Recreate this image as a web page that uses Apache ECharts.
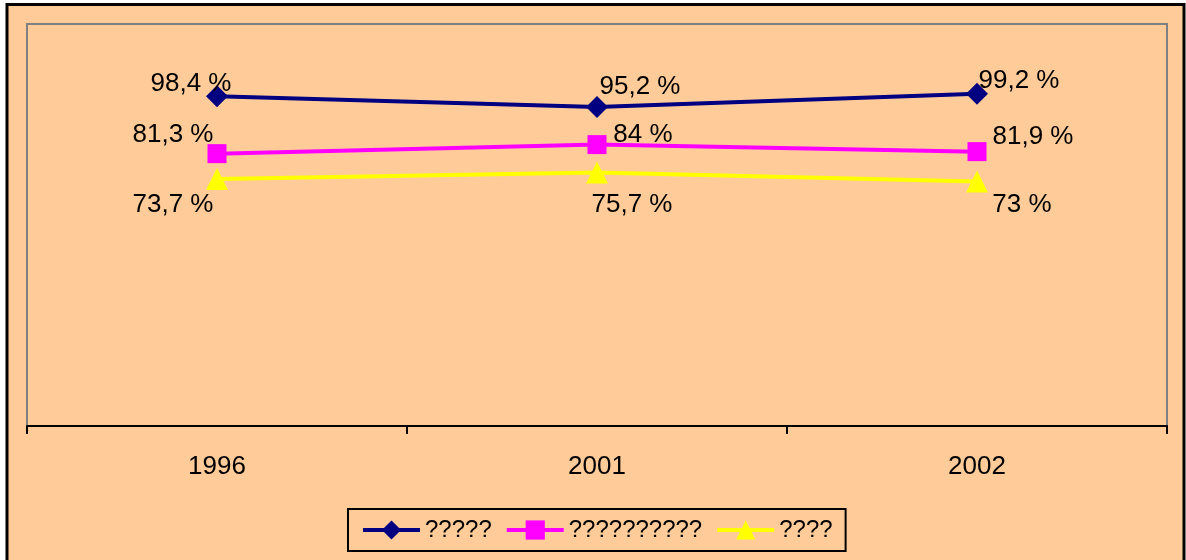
<!DOCTYPE html>
<html>
<head>
<meta charset="utf-8">
<script src="https://cdn.jsdelivr.net/npm/echarts@6/dist/echarts.min.js"></script>
<style>
  html, body { margin: 0; padding: 0; background: #ffffff; }
  #chart { width: 1186px; height: 560px; }
</style>
</head>
<body>
<div id="chart"></div>
<script>
// Chart data
const years = ['1996', '2001', '2002'];
const seriesNames = ['?????', '??????????', '????'];
const firstValues = [98.4, 95.2, 99.2];
const secondValues = [81.3, 84, 81.9];
const thirdValues = [73.7, 75.7, 73];

// Label placement relative to each marker (dx, dy)
const firstLabelOffsets = [[-26, -13], [43, -20], [42, -13]];
const secondLabelOffsets = [[-44, -19], [46, -10], [56, -15]];
const thirdLabelOffsets = [[-44, 26], [35, 32], [45, 23]];

const fontFamily = 'Liberation Sans, Arial, sans-serif';

/**
 * Builds the point list for a series, attaching the label offset to each point.
 */
function buildPoints(values, offsets) {
  return values.map((v, i) => ({
    value: v,
    label: {offset: offsets[i]}
  }));
}

function formatPercent(p) {
  return String(p.value).replace('.', ',') + ' %';
}

function makeSeries(name, values, offsets, color, symbol, symbolSize) {
  return {
    name: name,
    type: 'line',
    data: buildPoints(values, offsets),
    symbol: symbol,
    symbolSize: symbolSize,
    showAllSymbol: true,
    itemStyle: {color: color},
    lineStyle: {color: color, width: 4},
    emphasis: {disabled: true},
    label: {
      show: true,
      position: 'inside',
      align: 'center',
      verticalAlign: 'middle',
      color: '#000000',
      fontSize: 26,
      fontFamily: fontFamily,
      formatter: formatPercent
    }
  };
}

const chart = echarts.init(document.getElementById('chart'));

const option = {
  backgroundColor: '#ffffff',
  animation: false,
  graphic: [{
    type: 'rect',
    z: -10,
    shape: {x: 7, y: 4.5, width: 1177, height: 570},
    style: {fill: '#FFCC99', stroke: '#000000', lineWidth: 3}
  }],
  grid: {
    show: true,
    left: 27,
    right: 19,
    top: 24,
    bottom: 134,
    backgroundColor: 'transparent',
    borderColor: '#808080',
    borderWidth: 2
  },
  legend: {
    left: 348,
    top: 509,
    data: seriesNames,
    itemWidth: 57,
    itemHeight: 24,
    itemGap: 13,
    padding: [9, 13, 9, 13],
    borderColor: '#000000',
    borderWidth: 2,
    lineStyle: {width: 4},
    textStyle: {color: '#000000', fontSize: 24, fontFamily: fontFamily}
  },
  xAxis: {
    type: 'category',
    data: years,
    boundaryGap: true,
    axisLine: {lineStyle: {color: '#000000', width: 2}},
    axisTick: {show: true, length: 8, lineStyle: {color: '#000000', width: 2}},
    axisLabel: {color: '#000000', fontSize: 26, fontFamily: fontFamily, margin: 28},
    splitLine: {show: false}
  },
  yAxis: {
    type: 'value',
    min: 0,
    max: 120,
    show: false
  },
  series: [
    makeSeries(seriesNames[0], firstValues, firstLabelOffsets, '#000080', 'diamond', 22),
    makeSeries(seriesNames[1], secondValues, secondLabelOffsets, '#FF00FF', 'rect', 19),
    makeSeries(seriesNames[2], thirdValues, thirdLabelOffsets, '#FFFF00', 'triangle', 22)
  ]
};

chart.setOption(option);

window.addEventListener('resize', function () {
  chart.resize();
});
</script>
</body>
</html>
